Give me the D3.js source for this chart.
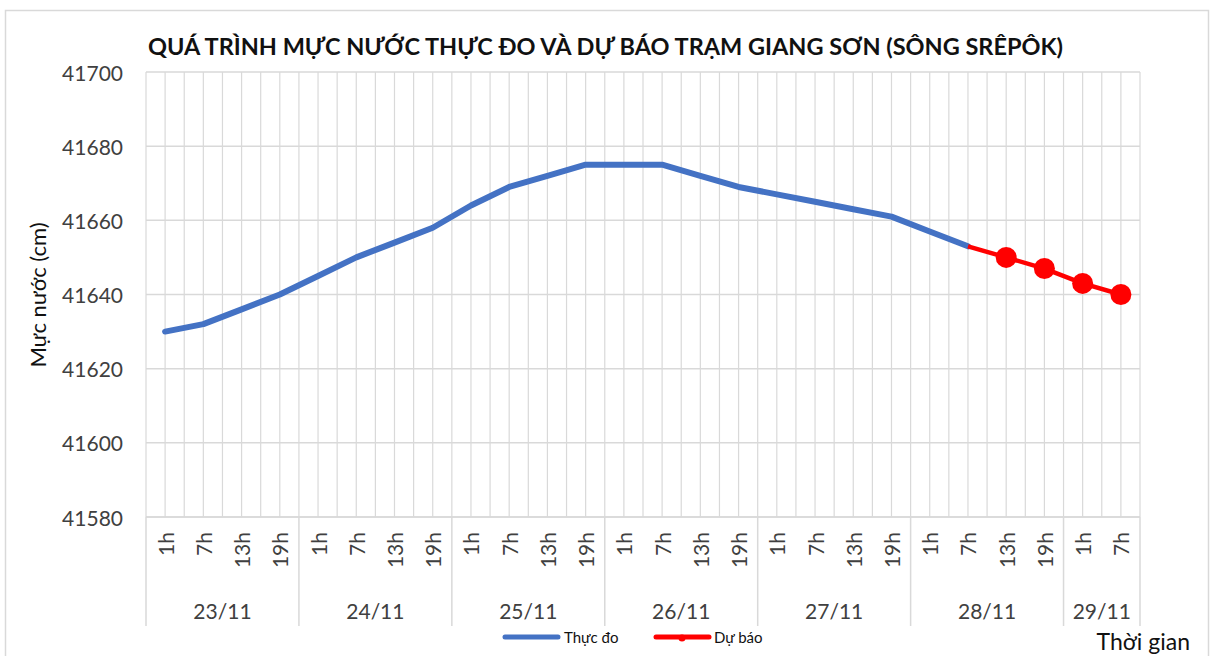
<!DOCTYPE html>
<html lang="vi">
<head>
<meta charset="UTF-8" />
<title>Mực nước trạm Giang Sơn</title>
<script src="https://cdn.jsdelivr.net/npm/d3@7/dist/d3.min.js"></script>
<style>
    body { margin: 0; background: #fff; font-family: 'Lato', sans-serif; overflow: hidden; }
    text { fill: #404040; }
    .title { font-weight: bold; fill: #111; }
</style>
</head>
<body>
<svg></svg>
<script>
    const width = 1211, height = 656;

    // data
    const hours = ["1h", "7h", "13h", "19h", "1h", "7h", "13h", "19h", "1h", "7h", "13h", "19h",
        "1h", "7h", "13h", "19h", "1h", "7h", "13h", "19h", "1h", "7h", "13h", "19h", "1h", "7h"];
    const dates = ["23/11", "24/11", "25/11", "26/11", "27/11", "28/11", "29/11"];
    const dateCounts = [4, 4, 4, 4, 4, 4, 2];
    // observed: index 0..21
    const observed = [41630, 41632, 41636, 41640, 41645, 41650, 41654, 41658, 41664, 41669, 41672, 41675,
        41675, 41675, 41672, 41669, 41667, 41665, 41663, 41661, 41657, 41653];
    // forecast: index 21..25
    const forecastStart = 21;
    const forecast = [41653, 41650, 41647, 41643, 41640];
    const yTicks = [41580, 41600, 41620, 41640, 41660, 41680, 41700];

    const plot = { left: 146, right: 1140, top: 72, bottom: 517 };

    const svg = d3.select("svg").attr("width", width).attr("height", height);

    // chart area border
    svg.append("rect")
        .attr("x", 5.5).attr("y", 10.5)
        .attr("width", 1203).attr("height", 660)
        .attr("fill", "none").attr("stroke", "#d9d9d9").attr("stroke-width", 1.5);

    const x = d3.scaleBand().domain(d3.range(hours.length)).range([plot.left, plot.right]);
    const bw = x.bandwidth();
    const cx = i => x(i) + bw / 2;
    const y = d3.scaleLinear().domain([41580, 41700]).range([plot.bottom, plot.top]);

    // horizontal gridlines
    svg.append("g").selectAll("line")
        .data(yTicks).enter().append("line")
        .attr("x1", plot.left).attr("x2", plot.right)
        .attr("y1", d => y(d)).attr("y2", d => y(d))
        .attr("stroke", "#d9d9d9").attr("stroke-width", 1.5);

    // vertical gridlines (category edges and centres)
    const vgrid = [];
    hours.forEach((h, i) => { vgrid.push(x(i)); vgrid.push(cx(i)); });
    vgrid.push(plot.right);
    svg.append("g").selectAll("line")
        .data(vgrid).enter().append("line")
        .attr("x1", d => d).attr("x2", d => d)
        .attr("y1", plot.top).attr("y2", plot.bottom)
        .attr("stroke", "#d9d9d9").attr("stroke-width", 1.2);

    // y tick labels
    svg.append("g").selectAll("text")
        .data(yTicks).enter().append("text")
        .attr("x", 123).attr("y", d => y(d))
        .attr("text-anchor", "end").attr("dominant-baseline", "central")
        .style("font-size", "21px")
        .text(d => d);

    // multi-level category axis
    const axisG = svg.append("g");
    axisG.append("line")
        .attr("x1", plot.left).attr("x2", plot.right)
        .attr("y1", plot.bottom).attr("y2", plot.bottom)
        .attr("stroke", "#d9d9d9").attr("stroke-width", 1.5);

    let bounds = [0];
    dateCounts.forEach(c => bounds.push(bounds[bounds.length - 1] + c));
    const boundX = bounds.map(b => b < hours.length ? x(b) : plot.right);
    axisG.selectAll(".sep")
        .data(boundX).enter().append("line")
        .attr("x1", d => d).attr("x2", d => d)
        .attr("y1", plot.bottom).attr("y2", 626)
        .attr("stroke", "#d9d9d9").attr("stroke-width", 1.5);

    axisG.selectAll(".hour")
        .data(hours).enter().append("text")
        .attr("transform", (d, i) => `translate(${cx(i)}, 532) rotate(-90)`)
        .attr("text-anchor", "end").attr("dominant-baseline", "central")
        .style("font-size", "21px")
        .text(d => d);

    axisG.selectAll(".date")
        .data(dates).enter().append("text")
        .attr("x", (d, i) => (boundX[i] + boundX[i + 1]) / 2)
        .attr("y", 610)
        .attr("text-anchor", "middle").attr("dominant-baseline", "central")
        .style("font-size", "21px")
        .text(d => d);

    // lines
    const line = d3.line().x(d => cx(d.i)).y(d => y(d.v));
    const obsPts = observed.map((v, i) => ({ i, v }));
    const fcPts = forecast.map((v, k) => ({ i: forecastStart + k, v }));

    svg.append("path").datum(obsPts)
        .attr("d", line).attr("fill", "none")
        .attr("stroke", "#4472C4").attr("stroke-width", 6)
        .attr("stroke-linejoin", "round").attr("stroke-linecap", "round");

    svg.append("path").datum(fcPts)
        .attr("d", line).attr("fill", "none")
        .attr("stroke", "#FF0000").attr("stroke-width", 4.5)
        .attr("stroke-linejoin", "round");

    svg.append("g").selectAll("circle")
        .data(fcPts.slice(1)).enter().append("circle")
        .attr("cx", d => cx(d.i)).attr("cy", d => y(d.v))
        .attr("r", 10.5).attr("fill", "#FF0000");

    // title
    svg.append("text").attr("class", "title")
        .attr("x", 148).attr("y", 55)
        .style("font-size", "23.5px")
        .text("QUÁ TRÌNH MỰC NƯỚC THỰC ĐO VÀ DỰ BÁO TRẠM GIANG SƠN (SÔNG SRÊPÔK)");

    // axis titles
    svg.append("text")
        .attr("transform", "translate(37, 295) rotate(-90)")
        .attr("text-anchor", "middle").attr("dominant-baseline", "central")
        .style("font-size", "22px").style("fill", "#111")
        .text("Mực nước (cm)");

    svg.append("text")
        .attr("x", 1190).attr("y", 641)
        .attr("text-anchor", "end").attr("dominant-baseline", "central")
        .style("font-size", "23px").style("fill", "#111")
        .text("Thời gian");

    // legend
    const leg = svg.append("g");
    leg.append("line").attr("x1", 505).attr("x2", 558).attr("y1", 637).attr("y2", 637)
        .attr("stroke", "#4472C4").attr("stroke-width", 5).attr("stroke-linecap", "round");
    leg.append("text").attr("x", 564).attr("y", 637).attr("dominant-baseline", "central")
        .style("font-size", "15px").style("fill", "#111").text("Thực đo");
    leg.append("line").attr("x1", 656).attr("x2", 709).attr("y1", 637).attr("y2", 637)
        .attr("stroke", "#FF0000").attr("stroke-width", 5).attr("stroke-linecap", "round");
    leg.append("circle").attr("cx", 682).attr("cy", 638).attr("r", 3.5).attr("fill", "#FF0000");
    leg.append("text").attr("x", 714).attr("y", 637).attr("dominant-baseline", "central")
        .style("font-size", "15px").style("fill", "#111").text("Dự báo");
</script>
</body>
</html>
